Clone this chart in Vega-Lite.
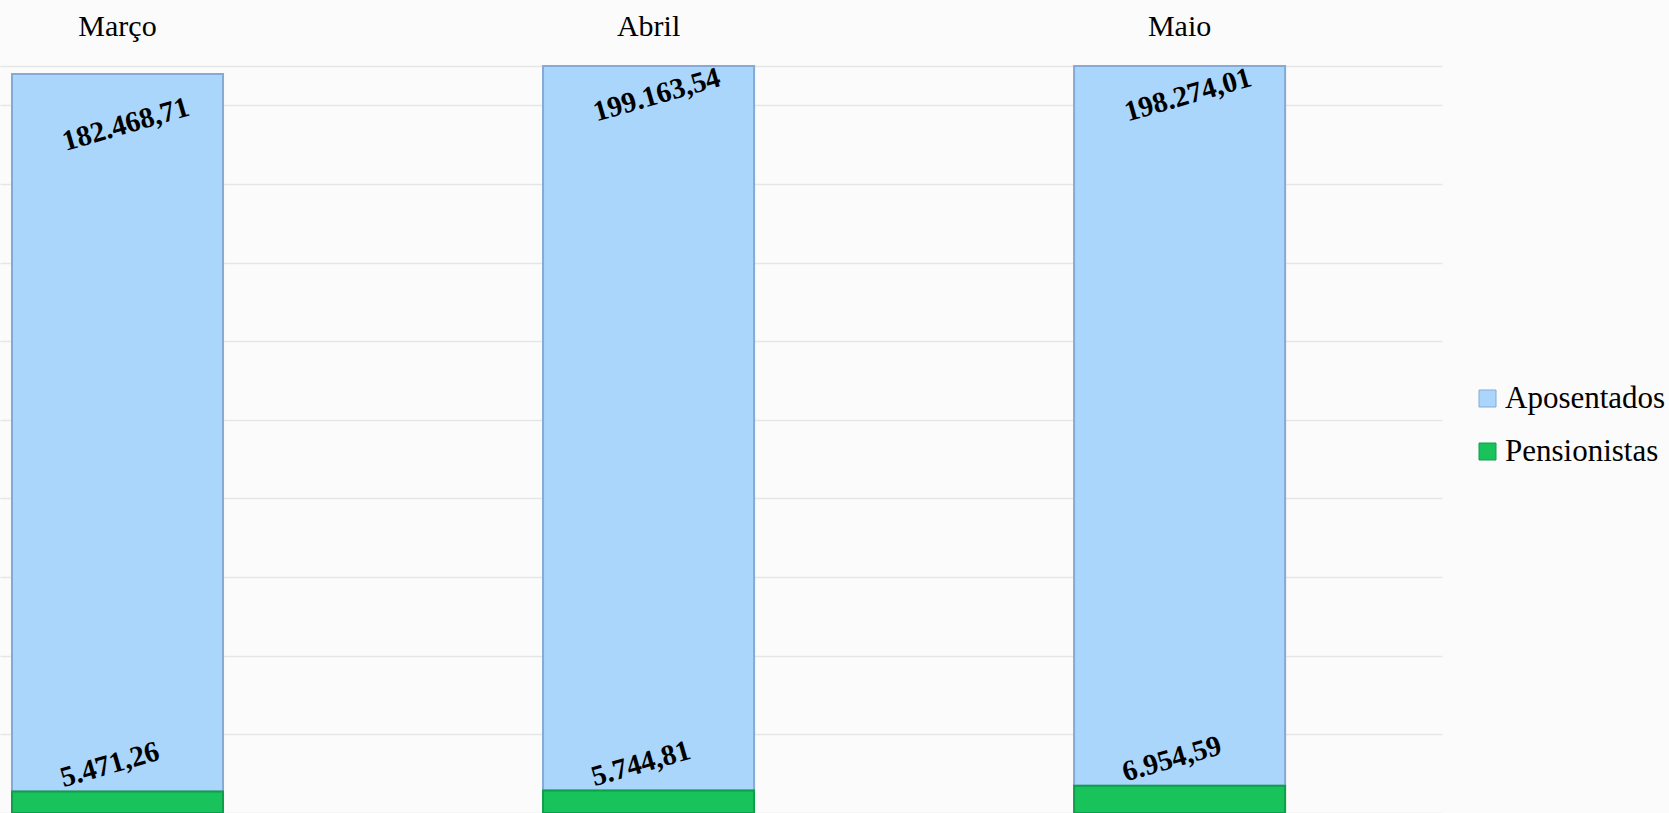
{
  "$schema": "https://vega.github.io/schema/vega-lite/v6.json",
  "width": 1442,
  "height": 747,
  "autosize": {"type": "none"},
  "padding": {"left": 0, "top": 66, "right": 227, "bottom": 0},
  "background": "#FBFBFB",
  "config": {
    "locale": {"number": {"decimal": ",", "thousands": ".", "grouping": [3], "currency": ["R$", ""]}},
    "view": {"stroke": null},
    "font": "Liberation Serif"
  },
  "data": {
    "values": [
      {"mes": "Março", "serie": "Aposentados", "valor": 182468.71},
      {"mes": "Março", "serie": "Pensionistas", "valor": 5471.26},
      {"mes": "Abril", "serie": "Aposentados", "valor": 199163.54},
      {"mes": "Abril", "serie": "Pensionistas", "valor": 5744.81},
      {"mes": "Maio", "serie": "Aposentados", "valor": 198274.01},
      {"mes": "Maio", "serie": "Pensionistas", "valor": 6954.59}
    ]
  },
  "encoding": {
    "x": {
      "field": "mes",
      "type": "nominal",
      "sort": ["Março", "Abril", "Maio"],
      "scale": {"paddingInner": 0.6026, "paddingOuter": 0.159, "align": 0.071},
      "axis": {
        "orient": "top",
        "title": null,
        "domain": false,
        "ticks": false,
        "labelAngle": 0,
        "labelFont": "Liberation Serif",
        "labelFontSize": 30,
        "labelColor": "#000000",
        "labelBaseline": "alphabetic",
        "labelPadding": 31
      }
    }
  },
  "layer": [
    {
      "mark": {"type": "bar", "strokeWidth": 2},
      "encoding": {
        "y": {
          "field": "valor",
          "type": "quantitative",
          "stack": "zero",
          "scale": {"domain": [0, 190000], "nice": false, "clamp": true},
          "axis": {
            "title": null,
            "labels": false,
            "ticks": false,
            "domain": false,
            "grid": true,
            "gridColor": "#E6E6E6",
            "gridWidth": 1.5,
            "values": [0, 20000, 40000, 60000, 80000, 100000, 120000, 140000, 160000, 180000, 190000]
          }
        },
        "color": {
          "field": "serie",
          "type": "nominal",
          "scale": {"domain": ["Aposentados", "Pensionistas"], "range": ["#AAD6FB", "#19C35C"]},
          "legend": {
            "orient": "none",
            "legendX": 1472,
            "legendY": 317,
            "title": null,
            "padding": 0,
            "symbolType": "square",
            "symbolSize": 289,
            "symbolStrokeWidth": 1,
            "labelFont": "Liberation Serif",
            "labelFontSize": 31,
            "labelColor": "#000000",
            "labelOffset": 2,
            "labelLimit": 0,
            "rowPadding": 21
          }
        },
        "stroke": {
          "field": "serie",
          "type": "nominal",
          "scale": {"domain": ["Aposentados", "Pensionistas"], "range": ["#86A9D6", "#0F9E49"]},
          "legend": null
        },
        "order": {"field": "serie", "sort": "descending"}
      }
    },
    {
      "transform": [{"filter": "datum.serie === 'Aposentados'"}],
      "mark": {"type": "text", "angle": 344, "dy": 30, "baseline": "middle", "align": "center", "font": "Liberation Serif", "fontSize": 29, "fontWeight": "bold", "color": "#000000"},
      "encoding": {
        "y": {"field": "valor", "type": "quantitative", "stack": null, "scale": {"domain": [0, 190000], "nice": false, "clamp": true}},
        "text": {"field": "valor", "type": "quantitative", "format": ",.2f"}
      }
    },
    {
      "transform": [{"filter": "datum.serie === 'Pensionistas'"}],
      "mark": {"type": "text", "angle": 344, "dy": -28, "baseline": "middle", "align": "center", "font": "Liberation Serif", "fontSize": 29, "fontWeight": "bold", "color": "#000000"},
      "encoding": {
        "y": {"field": "valor", "type": "quantitative", "stack": null, "scale": {"domain": [0, 190000], "nice": false, "clamp": true}},
        "text": {"field": "valor", "type": "quantitative", "format": ",.2f"}
      }
    }
  ]
}
